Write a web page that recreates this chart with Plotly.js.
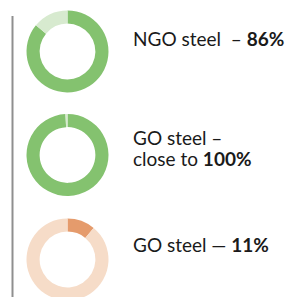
<!DOCTYPE html>
<html><head><meta charset="utf-8">
<script src="https://cdn.plot.ly/plotly-3.0.1.min.js"></script>
<style>html,body{margin:0;padding:0;overflow:hidden;background:#fff}#c{width:290px;height:301px}</style>
</head><body><div id="c"></div>
<script>
const labels = ["share", "rest"];
const ngoValues = [86, 14];
const goValues = [99.2, 0.8];
const go2Values = [11, 89];
const greenColors = ["#84c26f", "#d7eacf"];
const orangeColors = ["#e59b6c", "#f6dcc8"];
const texts = [
  "NGO steel  – <b>86%</b>",
  "GO steel –",
  "close to <b>100%</b>",
  "GO steel — <b>11%</b>"
];

const W = 290, H = 301;
const px = x => x / W, py = y => 1 - y / H;
function dom(cx, cy, r) { return {x: [px(cx - r), px(cx + r)], y: [py(cy + r), py(cy - r)]}; }
function pie(vals, cols, d) {
  return {type: "pie", values: vals, labels: labels, sort: false, direction: "clockwise", rotation: 0,
    hole: 0.68, textinfo: "none", hoverinfo: "none", showlegend: false,
    marker: {colors: cols, line: {width: 0}}, domain: d};
}
const data = [
  pie(ngoValues, greenColors, dom(67.5, 51.5, 41)),
  pie(goValues, greenColors, dom(67.5, 155, 41)),
  pie(go2Values, orangeColors, dom(67.5, 259.5, 41))
];
const tf = {family: "Lato, sans-serif", size: 19, color: "#1a1a1a"};
const ys = [39, 137, 158, 244];
const layout = {
  width: W, height: H, margin: {l: 0, r: 0, t: 0, b: 0},
  paper_bgcolor: "#fff", plot_bgcolor: "#fff",
  shapes: [{type: "line", xref: "paper", yref: "paper", x0: px(12.5), x1: px(12.5), y0: py(16), y1: 0,
    line: {color: "#8f8f8f", width: 2}}],
  annotations: texts.map((t, i) => ({text: t, x: px(130.5), y: py(ys[i]), xanchor: "left", yanchor: "middle",
    align: "left", xref: "paper", yref: "paper", showarrow: false, font: tf}))
};
Plotly.newPlot("c", data, layout, {staticPlot: true, displayModeBar: false});
</script></body></html>
